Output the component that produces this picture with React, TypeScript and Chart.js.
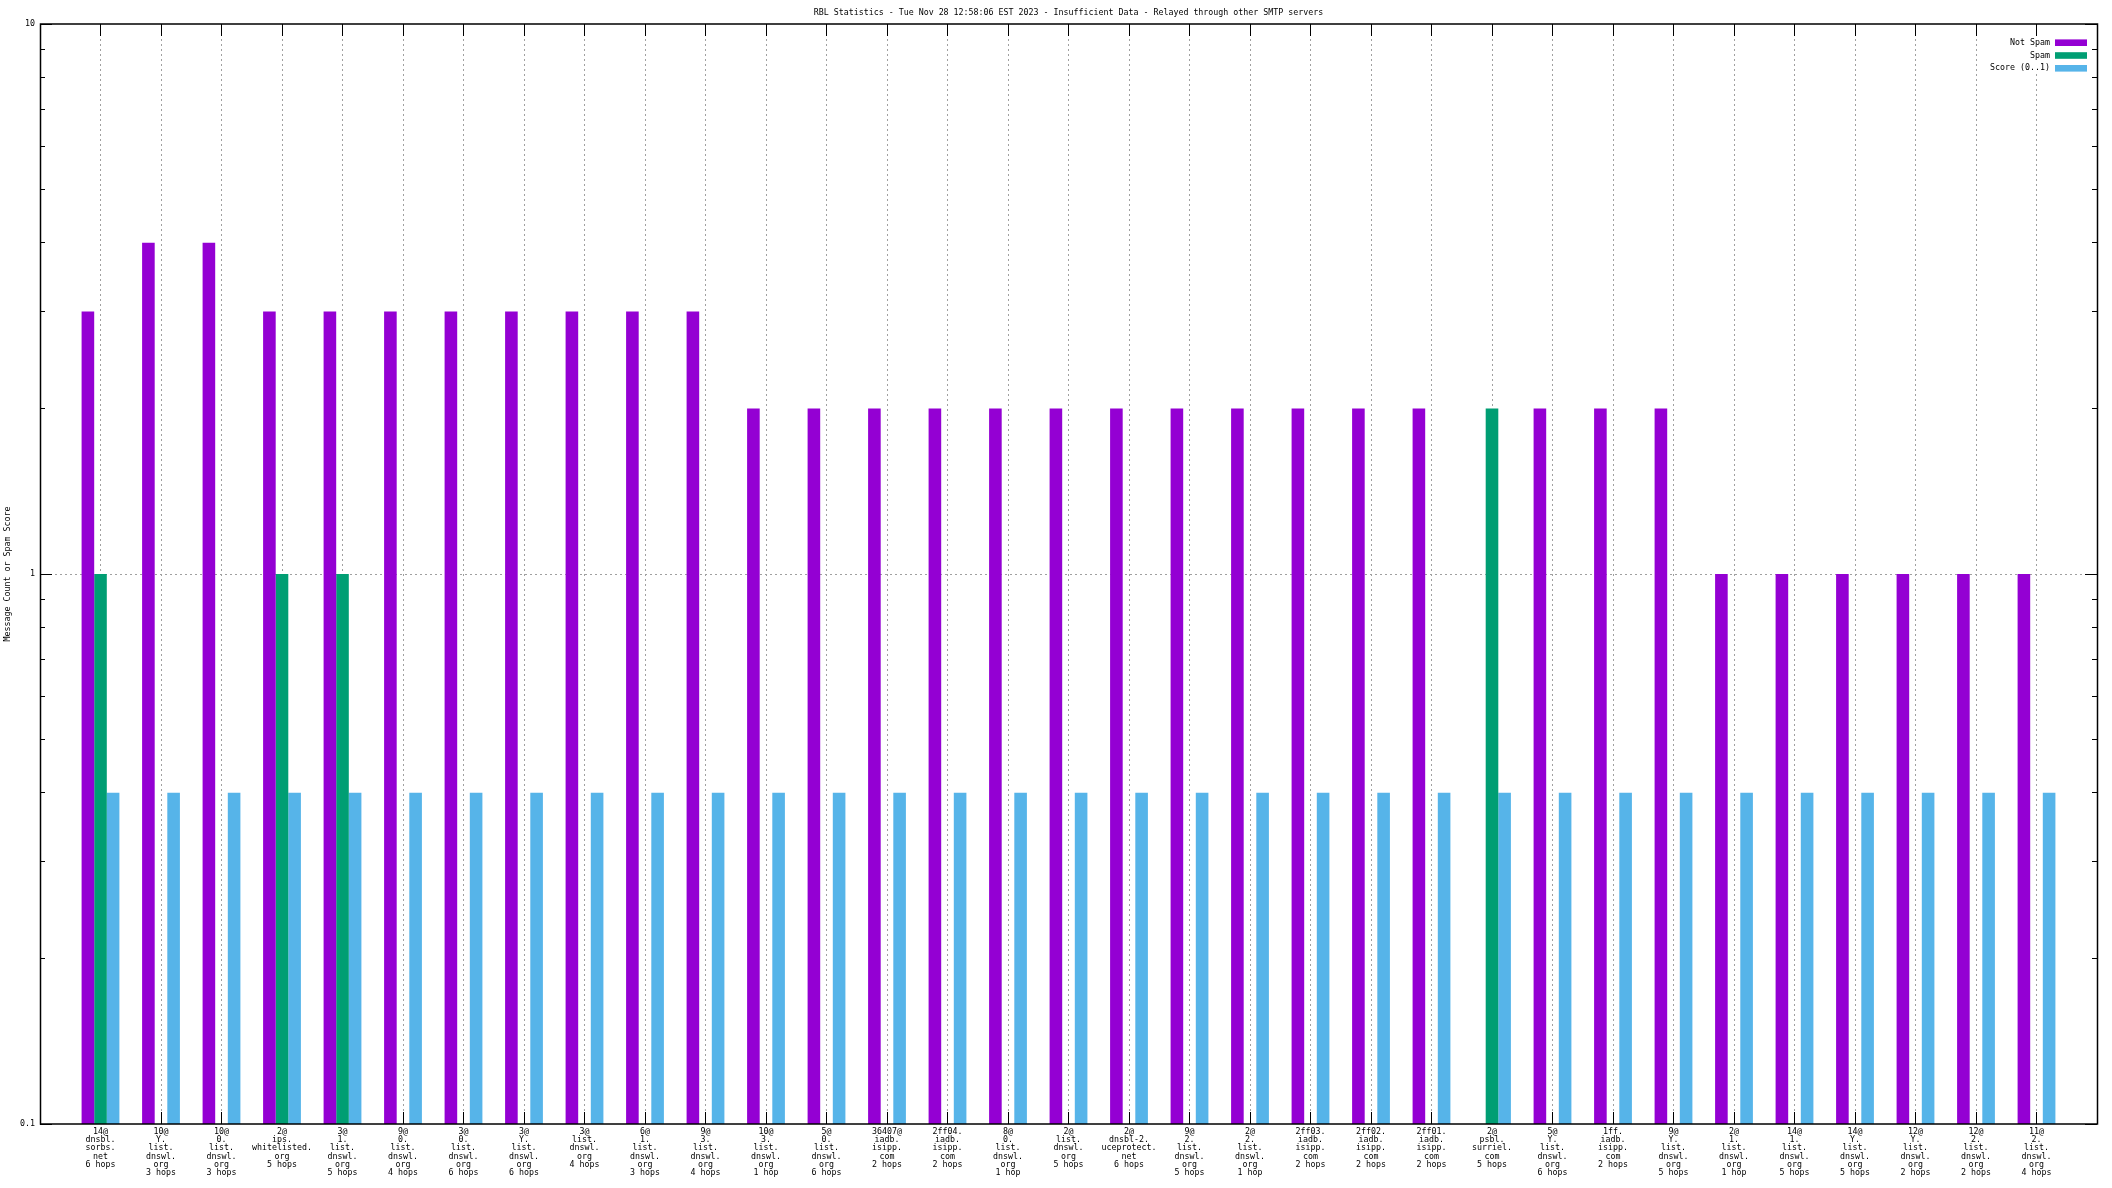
import React, { useEffect, useRef } from "react";
import { Chart, registerables } from "chart.js";

Chart.register(...registerables);

const TITLE =
  "RBL Statistics - Tue Nov 28 12:58:06 EST 2023 - Insufficient Data - Relayed through other SMTP servers";
const Y_TITLE = "Message Count or Spam Score";

const CATEGORIES: string[][] = [
  ["14@", "dnsbl.", "sorbs.", "net", "6 hops"],
  ["10@", "Y.", "list.", "dnswl.", "org", "3 hops"],
  ["10@", "0.", "list.", "dnswl.", "org", "3 hops"],
  ["2@", "ips.", "whitelisted.", "org", "5 hops"],
  ["3@", "1.", "list.", "dnswl.", "org", "5 hops"],
  ["9@", "0.", "list.", "dnswl.", "org", "4 hops"],
  ["3@", "0.", "list.", "dnswl.", "org", "6 hops"],
  ["3@", "Y.", "list.", "dnswl.", "org", "6 hops"],
  ["3@", "list.", "dnswl.", "org", "4 hops"],
  ["6@", "1.", "list.", "dnswl.", "org", "3 hops"],
  ["9@", "3.", "list.", "dnswl.", "org", "4 hops"],
  ["10@", "3.", "list.", "dnswl.", "org", "1 hop"],
  ["5@", "0.", "list.", "dnswl.", "org", "6 hops"],
  ["36407@", "iadb.", "isipp.", "com", "2 hops"],
  ["2ff04.", "iadb.", "isipp.", "com", "2 hops"],
  ["8@", "0.", "list.", "dnswl.", "org", "1 hop"],
  ["2@", "list.", "dnswl.", "org", "5 hops"],
  ["2@", "dnsbl-2.", "uceprotect.", "net", "6 hops"],
  ["9@", "2.", "list.", "dnswl.", "org", "5 hops"],
  ["2@", "2.", "list.", "dnswl.", "org", "1 hop"],
  ["2ff03.", "iadb.", "isipp.", "com", "2 hops"],
  ["2ff02.", "iadb.", "isipp.", "com", "2 hops"],
  ["2ff01.", "iadb.", "isipp.", "com", "2 hops"],
  ["2@", "psbl.", "surriel.", "com", "5 hops"],
  ["5@", "Y.", "list.", "dnswl.", "org", "6 hops"],
  ["1ff.", "iadb.", "isipp.", "com", "2 hops"],
  ["9@", "Y.", "list.", "dnswl.", "org", "5 hops"],
  ["2@", "1.", "list.", "dnswl.", "org", "1 hop"],
  ["14@", "1.", "list.", "dnswl.", "org", "5 hops"],
  ["14@", "Y.", "list.", "dnswl.", "org", "5 hops"],
  ["12@", "Y.", "list.", "dnswl.", "org", "2 hops"],
  ["12@", "2.", "list.", "dnswl.", "org", "2 hops"],
  ["11@", "2.", "list.", "dnswl.", "org", "4 hops"],
];

const NOT_SPAM: (number | null)[] = [
  3, 4, 4, 3, 3, 3, 3, 3, 3, 3, 3,
  2, 2, 2, 2, 2, 2, 2, 2, 2, 2, 2, 2,
  null, 2, 2, 2,
  1, 1, 1, 1, 1, 1,
];
const SPAM: (number | null)[] = [
  1, null, null, 1, 1, null, null, null, null, null, null,
  null, null, null, null, null, null, null, null, null, null, null, null,
  2, null, null, null,
  null, null, null, null, null, null,
];
const SCORE: (number | null)[] = [
  0.4, 0.4, 0.4, 0.4, 0.4, 0.4, 0.4, 0.4, 0.4, 0.4, 0.4,
  0.4, 0.4, 0.4, 0.4, 0.4, 0.4, 0.4, 0.4, 0.4, 0.4, 0.4, 0.4,
  0.4, 0.4, 0.4, 0.4,
  0.4, 0.4, 0.4, 0.4, 0.4, 0.4,
];

const SERIES_NAMES = ["Not Spam", "Spam", "Score (0..1)"];
const COLORS = ["#9400d3", "#009e73", "#56b4e9"];
const Y_MAJOR = [0.1, 1, 10];
const Y_MAJOR_LABELS = ["0.1", "1", "10"];
const Y_MINOR_MULT = [2, 3, 4, 5, 6, 7, 8, 9];

const FONT = '8.3px "DejaVu Sans Mono", "Liberation Mono", monospace';

const crisp = (v: number) => Math.round(v - 0.5) + 0.5;

const pad = (arr: (number | null)[]) => [null, ...arr, null];

const gnuplotPlugin = {
  id: "gnuplotDecor",
  beforeDatasetsDraw(chart: any) {
    const { ctx, chartArea: a } = chart;
    const x = chart.scales.x;
    const y = chart.scales.y;
    ctx.save();
    // dashed grid
    ctx.strokeStyle = "#a0a0a0";
    ctx.lineWidth = 1;
    ctx.setLineDash([2, 3]);
    for (let i = 0; i < CATEGORIES.length; i++) {
      const px = crisp(x.getPixelForValue(i + 1));
      ctx.beginPath();
      ctx.moveTo(px, a.top);
      ctx.lineTo(px, a.bottom);
      ctx.stroke();
    }
    const p1 = crisp(y.getPixelForValue(1));
    ctx.beginPath();
    ctx.moveTo(a.left, p1);
    ctx.lineTo(a.right, p1);
    ctx.stroke();
    ctx.setLineDash([]);

    // legend background
    ctx.fillStyle = "#ffffff";
    ctx.fillRect(a.right - 112, 36, 103, 38);

    // ticks
    ctx.strokeStyle = "#000000";
    ctx.lineWidth = 1;
    for (let i = 0; i < CATEGORIES.length; i++) {
      const px = crisp(x.getPixelForValue(i + 1));
      ctx.beginPath();
      ctx.moveTo(px, a.bottom);
      ctx.lineTo(px, a.bottom - 12);
      ctx.moveTo(px, a.top);
      ctx.lineTo(px, a.top + 12);
      ctx.stroke();
    }
    for (const v of Y_MAJOR) {
      const py = crisp(y.getPixelForValue(v));
      ctx.beginPath();
      ctx.moveTo(a.left, py);
      ctx.lineTo(a.left + 12, py);
      ctx.moveTo(a.right, py);
      ctx.lineTo(a.right - 12, py);
      ctx.stroke();
    }
    for (const base of [0.1, 1]) {
      for (const m of Y_MINOR_MULT) {
        const py = crisp(y.getPixelForValue(base * m));
        ctx.beginPath();
        ctx.moveTo(a.left, py);
        ctx.lineTo(a.left + 5, py);
        ctx.moveTo(a.right, py);
        ctx.lineTo(a.right - 5, py);
        ctx.stroke();
      }
    }
    ctx.restore();
  },
  afterDatasetsDraw(chart: any) {
    const { ctx, chartArea: a } = chart;
    const x = chart.scales.x;
    const y = chart.scales.y;
    ctx.save();
    // border
    ctx.strokeStyle = "#000000";
    ctx.lineWidth = 1.5;
    ctx.strokeRect(a.left + 0.5, a.top, a.right - a.left, a.bottom - a.top);

    ctx.fillStyle = "#000000";
    ctx.font = FONT;

    // title
    ctx.textAlign = "center";
    ctx.textBaseline = "middle";
    ctx.fillText(TITLE, (a.left + a.right) / 2, 12.5);

    // y tick labels
    ctx.textAlign = "right";
    Y_MAJOR.forEach((v, i) => {
      ctx.fillText(Y_MAJOR_LABELS[i], a.left - 5, y.getPixelForValue(v));
    });

    // category labels
    ctx.textAlign = "center";
    CATEGORIES.forEach((lines, i) => {
      const px = x.getPixelForValue(i + 1);
      lines.forEach((line, k) => {
        ctx.fillText(line, px, a.bottom + 7.5 + k * 8.3);
      });
    });

    // y axis title
    ctx.save();
    ctx.translate(7.5, (a.top + a.bottom) / 2);
    ctx.rotate(-Math.PI / 2);
    ctx.textAlign = "center";
    ctx.textBaseline = "middle";
    ctx.fillText(Y_TITLE, 0, 0);
    ctx.restore();

    // legend
    SERIES_NAMES.forEach((name, k) => {
      const yc = 42.7 + k * 12.8;
      ctx.fillStyle = "#000000";
      ctx.textAlign = "right";
      ctx.textBaseline = "middle";
      ctx.fillText(name, a.right - 47, yc);
      ctx.fillStyle = COLORS[k];
      ctx.fillRect(a.right - 42, yc - 3.3, 32, 6.6);
    });
    ctx.restore();
  },
};

export default function App() {
  const ref = useRef<HTMLCanvasElement | null>(null);
  useEffect(() => {
    if (!ref.current) return;
    const labels = ["", ...CATEGORIES.map((c) => c.join(" ")), ""];
    const chart = new Chart(ref.current, {
      type: "bar",
      data: {
        labels,
        datasets: [
          { label: SERIES_NAMES[0], data: pad(NOT_SPAM), backgroundColor: COLORS[0] },
          { label: SERIES_NAMES[1], data: pad(SPAM), backgroundColor: COLORS[1] },
          { label: SERIES_NAMES[2], data: pad(SCORE), backgroundColor: COLORS[2] },
        ],
      },
      options: {
        responsive: false,
        maintainAspectRatio: false,
        devicePixelRatio: 1,
        animation: false,
        layout: { padding: { left: 40, right: 15, top: 24, bottom: 64 } },
        datasets: {
          bar: {
            barPercentage: 1,
            categoryPercentage: 0.625,
            borderWidth: 0,
          },
        },
        scales: {
          x: { type: "category", offset: false, display: false },
          y: { type: "logarithmic", min: 0.1, max: 10, display: false },
        },
        plugins: {
          legend: { display: false },
          title: { display: false },
          tooltip: { enabled: false },
        },
      },
      plugins: [gnuplotPlugin],
    });
    return () => chart.destroy();
  }, []);
  return (
    <div style={{ position: "fixed", left: 0, top: 0, width: 2112, height: 1188, background: "#fff" }}>
      <canvas ref={ref} width={2112} height={1188} style={{ display: "block", width: 2112, height: 1188 }} />
    </div>
  );
}
